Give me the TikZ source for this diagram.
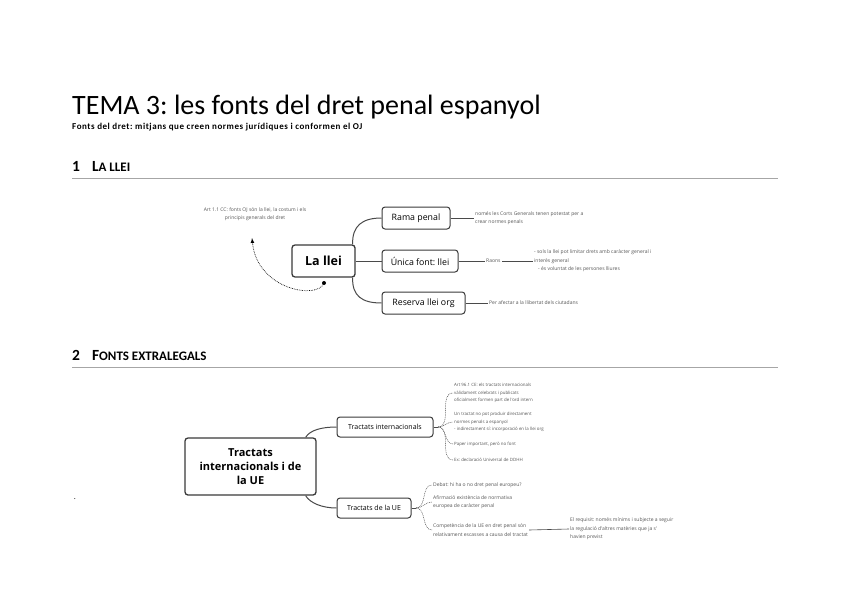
\documentclass[tikz,border=0pt]{standalone}
\usepackage{fontspec}
\setmainfont{Carlito}
\newfontfamily\mapfont{Open Sans}
\usepackage{tikz}
\usetikzlibrary{arrows,positioning,calc}
\frenchspacing
\definecolor{boxline}{HTML}{3A3A3A}
\definecolor{branchline}{HTML}{4A4A4A}
\definecolor{noteink}{HTML}{555555}
\definecolor{rulegray}{HTML}{A6A6A6}
\newcommand{\lowcaps}[1]{{\fontsize{13}{15}\selectfont #1}}
\tikzstyle{heading} = [anchor=base west, inner sep=0, font=\bfseries\fontsize{15.5}{17}\selectfont]
\tikzstyle{seprule} = [draw=rulegray, line width=1pt]
\tikzstyle{central} = [draw=boxline, line width=1.3pt, rounded corners=3pt, fill=white, align=center, font=\mapfont\bfseries\fontsize{12.5}{14}\selectfont]
\tikzstyle{topic} = [draw=boxline, line width=1pt, rounded corners=3pt, fill=white, minimum height=22pt, inner sep=2pt, font=\mapfont\fontsize{8.8}{10}\selectfont]
\tikzstyle{subtopic} = [topic, minimum height=20pt, font=\mapfont\fontsize{7}{8}\selectfont]
\tikzstyle{branch} = [draw=branchline, line width=1pt]
\tikzstyle{twig} = [draw=branchline, line width=0.6pt]
\tikzstyle{fan} = [draw=noteink, line width=0.5pt, dash pattern=on 1pt off 0.8pt]
\tikzstyle{note} = [anchor=west, inner sep=1pt, align=left, text=noteink, font=\mapfont\fontsize{5}{8.5}\selectfont]
\tikzstyle{smallnote} = [note, font=\mapfont\fontsize{4.4}{7.8}\selectfont]
\tikzstyle{pointer} = [draw=black, line width=0.7pt, densely dotted, -latex]

\begin{document}
\begin{tikzpicture}[x=1pt,y=-1pt]
\useasboundingbox (0,0) rectangle (848,599);

%% TITLE
\node[anchor=base west, inner sep=0, font=\fontsize{28}{34}\selectfont] (title) at (72,114) {TEMA 3: les fonts del dret penal espanyol};
\node[anchor=base west, inner sep=0, font=\bfseries\fontsize{9}{11}\selectfont\addfontfeatures{LetterSpace=6}] (subtitle) at (72,129) {Fonts del dret: mitjans que creen normes jurídiques i conformen el OJ};

%% SECTION 1
\node[heading] (sec1) at (72,171) {1\hspace{12pt}L\lowcaps{A LLEI}};
\draw[seprule] (72,178) -- (778,178);

% central node and topics
\node[central, minimum width=63pt, minimum height=32pt] (llei) at (323.5,261) {La llei};
\node[topic, minimum width=68pt] (rama) at (416,218) {Rama penal};
\node[topic, minimum width=76pt] (unica) at (420,261) {Única font: llei};
\node[topic, minimum width=83pt] (reserva) at (423.5,303) {Reserva llei org};

\draw[branch] ($(llei.north east)+(-3,0)$) .. controls (352,226) and (362,218) .. (rama.west);
\draw[branch] (llei.east) -- (unica.west);
\draw[branch] ($(llei.south east)+(-3,0)$) .. controls (352,296) and (362,303) .. (reserva.west);

% notes
\node[note] (ramanote) at (474,218) {només les Corts Generals tenen potestat per a\\crear normes penals};
\draw[twig] (rama.east) -- (ramanote.west);
\node[note] (raons) at (485,261) {Raons};
\draw[twig] (unica.east) -- (raons.west);
\node[note] (raonsnote) at (533,261) {- sols la llei pot limitar drets amb caràcter general i\\interès general\\\hspace{4pt}- és voluntat de les persones lliures};
\draw[twig] (raons.east) -- (raonsnote.west);
\node[note] (reservanote) at (488,303) {Per afectar a la llibertat dels ciutadans};
\draw[twig] (reserva.east) -- (reservanote.west);

% dotted pointer to Art 1.1
\node[note, anchor=center, align=center] (art) at (255,214) {Art 1.1 CC: fonts OJ són la llei, la costum i els\\principis generals del dret};
\coordinate (artdot) at (324,283);
\coordinate (artend) at (252,238);
\fill (artdot) circle (2pt);
\draw[pointer] (artdot) .. controls (318,300) and (257,290) .. (artend);

%% SECTION 2
\node[heading] (sec2) at (72,360) {2\hspace{12pt}F\lowcaps{ONTS EXTRALEGALS}};
\draw[seprule] (72,367) -- (778,367);
\node[anchor=base, inner sep=0, font=\fontsize{8}{10}\selectfont] (stray) at (75,499) {.};

% central node and topics
\node[central, minimum width=131pt, minimum height=57pt, font=\mapfont\bfseries\fontsize{11}{14}\selectfont] (tractats) at (250.5,466.5) {Tractats\\internacionals i de\\la UE};
\node[subtopic, minimum width=96pt] (intl) at (385,427) {Tractats internacionals};
\node[subtopic, minimum width=74pt] (ue) at (374,508) {Tractats de la UE};

\draw[branch] ($(tractats.north east)+(-11,0)$) .. controls (310,430) and (322,427) .. (intl.west);
\draw[branch] ($(tractats.south east)+(-11,0)$) .. controls (310,503) and (322,508) .. (ue.west);

% tractats internacionals
\coordinate (intlfan) at (438,427);
\draw[twig] (intl.east) -- (intlfan);
\node[smallnote] (intl1) at (453,393) {Art 96.1 CE: els tractats internacionals\\vàlidament celebrats i publicats\\oficialment formen part de l'ord intern};
\node[smallnote] (intl2) at (453,422) {Un tractat no pot produir directament\\normes penals a espanyol\\- indirectament sí: incorporació en la llei org};
\node[smallnote] (intl3) at (453,444) {Paper important, però no font};
\node[smallnote] (intl4) at (453,460) {Ex: declaració Universal de DDHH};
\foreach \item in {intl1,intl2,intl3,intl4}
  \draw[fan] (intlfan) to[out=0,in=180] (\item.west);

% tractats de la UE
\coordinate (uefan) at (416,508);
\draw[twig] (ue.east) -- (uefan);
\node[note] (ue1) at (432,485) {Debat: hi ha o no dret penal europeu?};
\node[note] (ue2) at (432,502) {Afirmació existència de normativa\\europea de caràcter penal};
\node[note] (ue3) at (432,530) {Competència de la UE en dret penal són\\relativament escasses a causa del tractat};
\foreach \item in {ue1,ue2,ue3}
  \draw[fan] (uefan) to[out=0,in=180] (\item.west);
\node[note] (requisit) at (569,529) {El requisit: només mínims i subjecte a seguir\\la regulació d'altres matèries que ja s'\\havien previst};
\draw[twig] (ue3.east) -- (requisit.west);
\end{tikzpicture}
\end{document}
